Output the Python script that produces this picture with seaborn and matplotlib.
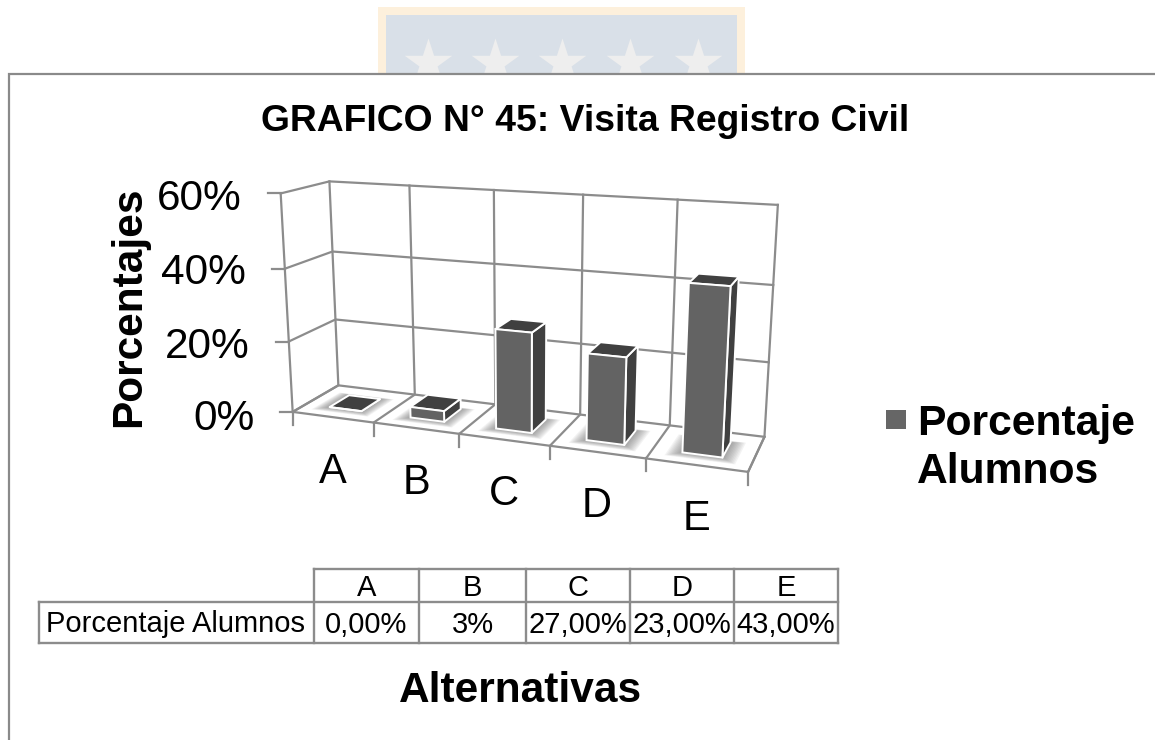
"""
Rebuilds the 3D looking column chart with a seaborn barplot seen through a fitted camera
"""

import numpy as np
import pandas as pd
import matplotlib.pyplot as plt
import matplotlib.transforms as mtransforms
from matplotlib.patches import Polygon, Rectangle
import seaborn as sns

categories = ["A", "B", "C", "D", "E"]
values = [0, 3, 27, 23, 43]
table_labels = ["0,00%", "3%", "27,00%", "23,00%", "43,00%"]
y_ticks = [0, 20, 40, 60]
y_tick_labels = ["0%", "20%", "40%", "60%"]
series_name = "Porcentaje Alumnos"

BAR_GREY = "#636363"
DARK_GREY = "#404040"
LINE_GREY = "#8c8c8c"
FONT = "Liberation Sans"

# scene corners (x, depth, percent) and where they land on the page in pixels
calib_world = np.array([
    (0, 0, 0), (1, 0, 0), (2, 0, 0), (3, 0, 0), (4, 0, 0), (5, 0, 0),
    (0, 1, 0), (1, 1, 0), (2, 1, 0), (3, 1, 0), (4, 1, 0), (5, 1, 0),
    (0, 1, 60), (1, 1, 60), (2, 1, 60), (3, 1, 60), (4, 1, 60), (5, 1, 60),
    (0, 0, 60), (0, 0, 40), (0, 0, 20),
    (0, 1, 40), (0, 1, 20), (5, 1, 40), (5, 1, 20),
], dtype=float)
calib_page = np.array([
    (293, 412), (373, 423), (459, 434), (550, 446), (646, 458), (748, 472),
    (338, 385), (415, 394), (493, 405), (582, 414), (670, 425), (765, 437),
    (329, 181), (409, 185.5), (494, 190), (583, 195), (678, 200), (778, 205),
    (280, 193), (286, 268), (289, 342),
    (333, 252), (336, 320), (773, 285), (768, 362),
], dtype=float)


def fit_camera(world, page):
    rows, rhs = [], []
    for (x, y, z), (u, v) in zip(world, page):
        rows.append([x, y, z, 1, 0, 0, 0, 0, -u * x, -u * y, -u * z])
        rows.append([0, 0, 0, 0, x, y, z, 1, -v * x, -v * y, -v * z])
        rhs.extend([u, v])
    m = np.linalg.lstsq(np.array(rows), np.array(rhs), rcond=None)[0]
    return np.append(m, 1).reshape(3, 4)


CAMERA = fit_camera(calib_world, calib_page)


def project(x, y, z):
    pts = np.column_stack([x, y, z, np.ones_like(x, dtype=float)])
    h = pts @ CAMERA.T
    return h[:, :2] / h[:, 2:]


def poly(corners):
    c = np.array(corners, dtype=float)
    return project(c[:, 0], c[:, 1], c[:, 2])


class SceneTransform(mtransforms.Transform):
    """(category position, percent) on a plane of constant depth -> page pixels"""

    input_dims = 2
    output_dims = 2

    def __init__(self, plane):
        super().__init__()
        self.plane = plane

    def transform_non_affine(self, values):
        values = np.asarray(values, dtype=float)
        return project(values[:, 0] + 0.5, np.full(len(values), self.plane), values[:, 1])


sns.set_style("white")
plt.rcParams["font.family"] = [FONT, "DejaVu Sans"]

fig = plt.figure(figsize=(11.55, 7.4), dpi=100)
page = fig.add_axes([0, 0, 1, 1], zorder=0)
page.set_xlim(0, 1155)
page.set_ylim(740, 0)
page.axis("off")


def line(pts, color=LINE_GREY, lw=1.6, zorder=3):
    pts = np.asarray(pts)
    page.plot(pts[:, 0], pts[:, 1], color=color, lw=lw, zorder=zorder, solid_capstyle="projecting")


def label(x, y, text, size, **kw):
    # y is the middle of the capitals, so sit the baseline below it
    kw.setdefault("ha", "center")
    page.text(x, y + 0.358 * size * 100 / 72, text, fontsize=size, va="baseline", color="black", **kw)


# faded crest behind the chart
page.add_patch(Rectangle((378, 7), 367, 80, fc="#fdf0dc", ec="none", zorder=0))
page.add_patch(Rectangle((386, 15), 351, 70, fc="#d9e0e8", ec="none", zorder=0.5))
page.scatter([428, 495, 562, 630, 698], [63] * 5, marker="*", s=1296, c="#eeeeee", lw=0, zorder=1)

# chart panel
page.add_patch(Rectangle((9, 74), 1200, 700, fc="white", ec="#8a8a8a", lw=1.6, zorder=2))

# walls, floor and ticks
for t in y_ticks:
    line(poly([(0, 0, t), (0, 1, t), (5, 1, t)]))
    p = poly([(0, 0, t)])[0]
    line([(p[0] - 13, p[1]), p])
for i in range(6):
    line(poly([(i, 0, 0), (i, 1, 0), (i, 1, 60)]))
    p = poly([(i, 0, 0)])[0]
    line([p, (p[0], p[1] + 13)])
line(poly([(0, 0, 0), (5, 0, 0), (5, 1, 0)]))
line(poly([(0, 0, 0), (0, 0, 60)]))

# seaborn draws the columns, the camera puts them in the scene
df = pd.DataFrame({"Alternativa": categories, "Porcentaje": values})
bars = fig.add_axes([0, 0, 1, 1], zorder=1)
bars.patch.set_alpha(0)
sns.barplot(df, x="Alternativa", y="Porcentaje", color=BAR_GREY, saturation=1, width=0.4, ax=bars)
bars.axis("off")

FRONT, BACK = 0.28, 0.72
for bar in bars.patches:
    x0 = bar.get_x() + 0.5
    x1 = x0 + bar.get_width()
    h = bar.get_height()
    # soft shadow on the floor
    for grow in np.linspace(0.15, 0.02, 10):
        page.add_patch(Polygon(
            poly([(x0 - grow, FRONT - grow * 0.9, 0), (x1 + grow, FRONT - grow * 0.9, 0),
                  (x1 + grow, BACK + grow * 0.3, 0), (x0 - grow, BACK + grow * 0.3, 0)]),
            fc="#555555", ec="none", alpha=0.065, zorder=4))
    side = [(x1, FRONT, 0), (x1, BACK, 0), (x1, BACK, h), (x1, FRONT, h)]
    top = [(x0, FRONT, h), (x1, FRONT, h), (x1, BACK, h), (x0, BACK, h)]
    for face in (side, top):
        page.add_patch(Polygon(poly(face), fc=DARK_GREY, ec="white", lw=1.4, zorder=5, joinstyle="round"))
    bar.set_transform(SceneTransform(FRONT) + page.transData)
    bar.set_clip_on(False)
    bar.set_edgecolor("white")
    bar.set_linewidth(1.4)

# axis text
for (x, y), text in zip([(255, 415), (250, 343), (246, 269), (242, 195)], y_tick_labels):
    label(x, y, text, 30.5, ha="right")
for (x, y), text in zip([(333, 468), (417, 479), (504, 490), (597, 502), (696, 515)], categories):
    label(x, y, text, 30)
label(585, 118, "GRAFICO N° 45: Visita Registro Civil", 26.8, fontweight="bold")
page.text(129, 307, "Porcentajes", fontsize=30.5, fontweight="bold", color="black",
          rotation=90, ha="center", va="center")
label(520, 687, "Alternativas", 30.5, fontweight="bold")

# legend
page.add_patch(Rectangle((886, 410), 20, 19, fc="#666666", ec="none", zorder=3))
label(917, 420, "Porcentaje", 30.7, fontweight="bold", ha="left")
label(917, 468, "Alumnos", 30.7, fontweight="bold", ha="left")

# data table
edges = [314, 419, 526, 630, 734, 838]
line([(edges[0], 569), (edges[-1], 569)], lw=1.7)
for y in (602, 643):
    line([(39, y), (edges[-1], y)], lw=1.7)
line([(39, 602), (39, 643)], lw=1.7)
for x in edges:
    line([(x, 569), (x, 643)], lw=1.7)
label(176, 622, series_name, 21)
for i, (cat, text) in enumerate(zip(categories, table_labels)):
    cx = (edges[i] + edges[i + 1]) / 2
    label(cx, 586, cat, 21)
    label(cx, 622.5, text, 21)

fig.savefig("out.png", dpi=100)
